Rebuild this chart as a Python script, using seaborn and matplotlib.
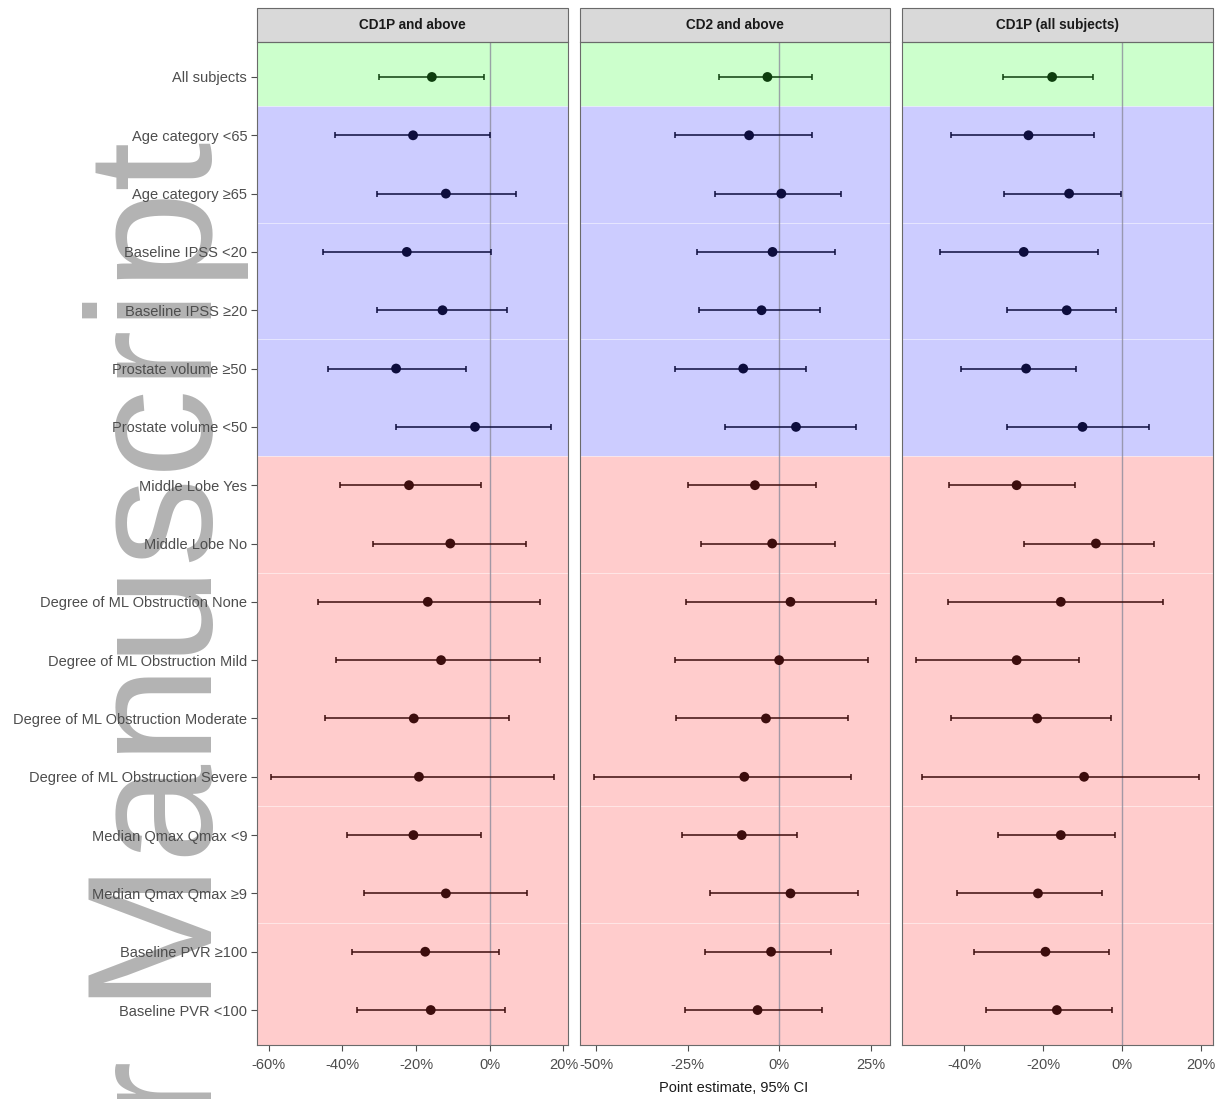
import numpy as np
import pandas as pd
import matplotlib
matplotlib.use("Agg")
import matplotlib.pyplot as plt
from matplotlib.patches import Rectangle
from matplotlib.ticker import FuncFormatter
import seaborn as sns

# subgroup labels, top to bottom
labels = ["All subjects", "Age category <65", "Age category \u226565",
          "Baseline IPSS <20", "Baseline IPSS \u226520",
          "Prostate volume \u226550", "Prostate volume <50",
          "Middle Lobe Yes", "Middle Lobe No",
          "Degree of ML Obstruction None", "Degree of ML Obstruction Mild",
          "Degree of ML Obstruction Moderate", "Degree of ML Obstruction Severe",
          "Median Qmax Qmax <9", "Median Qmax Qmax \u22659",
          "Baseline PVR \u2265100", "Baseline PVR <100"]
section = ["overall"] + ["baseline"] * 6 + ["anatomy"] * 10
variable = ["All", "Age", "Age", "IPSS", "IPSS", "PV", "PV", "ML", "ML",
            "Deg", "Deg", "Deg", "Deg", "Qmax", "Qmax", "PVR", "PVR"]

panel_titles = ["CD1P and above", "CD2 and above", "CD1P (all subjects)"]

est_cd1p = [-15.7, -20.8, -11.9, -22.5, -12.8, -25.4, -4.0, -21.9, -10.7,
            -16.8, -13.2, -20.6, -19.2, -20.7, -11.9, -17.5, -16.0]
lo_cd1p = [-30.0, -42.0, -30.7, -45.2, -30.6, -44.0, -25.3, -40.7, -31.7,
           -46.5, -41.8, -44.8, -59.3, -38.8, -34.0, -37.3, -36.1]
hi_cd1p = [-1.6, 0.1, 7.0, 0.3, 4.7, -6.4, 16.6, -2.5, 9.8,
           13.5, 13.6, 5.3, 17.3, -2.5, 10.1, 2.5, 4.2]

est_cd2 = [-3.2, -8.2, 0.6, -1.8, -4.8, -9.8, 4.6, -6.6, -1.9,
           3.1, 0.0, -3.6, -9.5, -10.2, 3.1, -2.2, -5.9]
lo_cd2 = [-16.3, -28.4, -17.5, -22.5, -22.0, -28.3, -14.8, -25.0, -21.3,
          -25.3, -28.3, -28.1, -50.6, -26.6, -18.8, -20.3, -25.8]
hi_cd2 = [9.0, 9.1, 16.8, 15.2, 11.1, 7.2, 21.1, 10.0, 15.2,
          26.5, 24.2, 18.7, 19.6, 5.0, 21.5, 14.2, 11.8]

est_all = [-17.7, -23.7, -13.4, -24.9, -14.0, -24.3, -10.0, -26.7, -6.6,
           -15.5, -26.7, -21.5, -9.6, -15.5, -21.3, -19.4, -16.5]
lo_all = [-30.1, -43.4, -29.8, -46.2, -29.2, -40.8, -29.2, -43.8, -24.9,
          -44.0, -52.1, -43.3, -50.7, -31.3, -41.7, -37.5, -34.4]
hi_all = [-7.3, -7.1, -0.3, -6.0, -1.6, -11.6, 6.8, -12.0, 8.2,
          10.3, -10.8, -2.7, 19.5, -1.8, -5.0, -3.3, -2.6]

x_ticks = [[-60, -40, -20, 0, 20], [-50, -25, 0, 25], [-40, -20, 0, 20]]

bg_colors = {"overall": "#ccffcc", "baseline": "#ccccff", "anatomy": "#ffcccc"}
pt_colors = {"overall": "#0e3e0e", "baseline": "#0d0d3d", "anatomy": "#3d0d0d"}

rows = []
for title, est, lo, hi in zip(panel_titles,
                              [est_cd1p, est_cd2, est_all],
                              [lo_cd1p, lo_cd2, lo_all],
                              [hi_cd1p, hi_cd2, hi_all]):
    for i, lab in enumerate(labels):
        rows.append(dict(panel=title, label=lab, pos=i, section=section[i],
                         variable=variable[i], est=est[i], lo=lo[i], hi=hi[i]))
df = pd.DataFrame(rows)

sns.set_theme(style="white")
plt.rcParams["font.family"] = ["Liberation Sans", "DejaVu Sans"]

fig, axes = plt.subplots(1, 3, figsize=(12.26, 10.99), dpi=100, sharey=True)
fig.subplots_adjust(left=0.2096, right=0.9894, top=0.9618, bottom=0.0491,
                    wspace=0.0386)

n = len(labels)
for k, (ax, title) in enumerate(zip(axes, panel_titles)):
    d = df[df.panel == title]

    # background bands, one rectangle per variable
    for var in dict.fromkeys(variable):
        idx = [i for i, v in enumerate(variable) if v == var]
        y0 = -0.6 if min(idx) == 0 else min(idx) - 0.5
        y1 = n - 0.4 if max(idx) == n - 1 else max(idx) + 0.5
        ax.axhspan(y0, y1, facecolor=bg_colors[section[idx[0]]],
                   edgecolor=(1, 1, 1, 0.3), linewidth=0.8, zorder=0)

    ax.axvline(0, color="#8c8c9c", linewidth=1.0, alpha=0.8, zorder=1)

    for sec in bg_colors:
        s = d[d.section == sec]
        ax.errorbar(s.est, s.pos, xerr=[s.est - s.lo, s.hi - s.est], fmt="none",
                    ecolor=pt_colors[sec], elinewidth=1.1, capsize=2.2,
                    capthick=1.1, zorder=2)
    sns.scatterplot(data=d, x="est", y="pos", hue="section", palette=pt_colors,
                    s=50, linewidth=0, legend=False, ax=ax, zorder=3)

    lo_lim = d.lo.min()
    hi_lim = d.hi.max()
    pad = (hi_lim - lo_lim) * 0.05
    ax.set_xlim(lo_lim - pad, hi_lim + pad)
    ax.set_ylim(n - 0.4, -0.6)
    ax.set_xticks(x_ticks[k])
    ax.xaxis.set_major_formatter(FuncFormatter(lambda v, p: f"{v:.0f}%"))
    ax.set_yticks(range(n))
    ax.set_yticklabels(labels)
    ax.set_xlabel("")
    ax.set_ylabel("")
    ax.tick_params(axis="both", which="both", length=4, width=0.8,
                   color="#4d4d4d", labelcolor="#4d4d4d", labelsize=10.5,
                   bottom=True, left=(k == 0), pad=3)
    ax.tick_params(axis="x", pad=5)
    for sp in ax.spines.values():
        sp.set_color("#6a6a6a")
        sp.set_linewidth(0.8)
        sp.set_zorder(4)

    # facet strip
    strip_h = 34 / 1003
    ax.add_patch(Rectangle((0, 1), 1, strip_h, transform=ax.transAxes,
                           facecolor="#d9d9d9", edgecolor="#6a6a6a",
                           linewidth=0.8, clip_on=False))
    ax.text(0.5, 1 + strip_h / 2, title, transform=ax.transAxes,
            ha="center", va="center", fontsize=9.8, fontweight="bold",
            color="#1a1a1a")

fig.text(0.5985, 1 - 1088 / 1099, "Point estimate, 95% CI", ha="center",
         va="center", fontsize=10.5, color="#1a1a1a")

# journal watermark
fig.text(212 / 1226, 1 - 142 / 1099, "Author Manuscript", rotation=90,
         rotation_mode="anchor", ha="right", va="baseline", fontsize=128,
         color="#b3b3b3", family="Liberation Sans", zorder=-1)

fig.savefig("out.png", dpi=100)
